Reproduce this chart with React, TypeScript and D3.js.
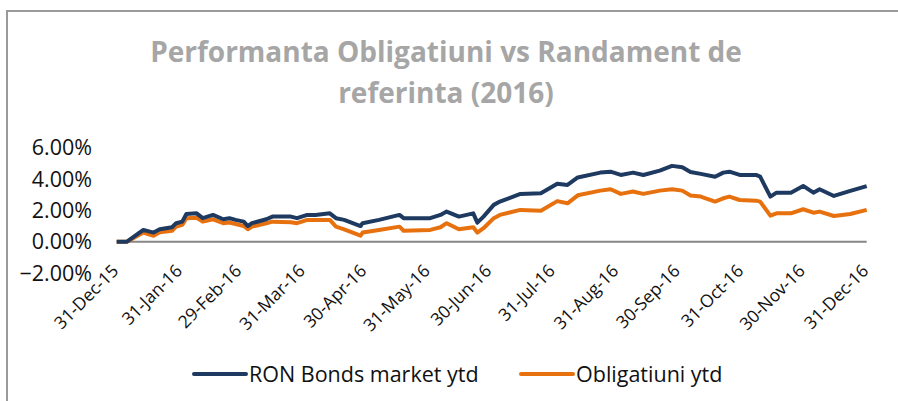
import React from "react";
import * as d3 from "d3";

const dates: string[] = [
  "2015-12-31","2016-01-05","2016-01-13","2016-01-18","2016-01-21","2016-01-27","2016-01-29",
  "2016-02-01","2016-02-03","2016-02-08","2016-02-11","2016-02-16","2016-02-21","2016-02-24","2016-02-27",
  "2016-03-02","2016-03-04","2016-03-06","2016-03-13","2016-03-16","2016-03-25","2016-03-28",
  "2016-04-02","2016-04-06","2016-04-13","2016-04-16","2016-04-20","2016-04-28","2016-04-29",
  "2016-05-07","2016-05-17","2016-05-19","2016-06-01","2016-06-06","2016-06-09","2016-06-15",
  "2016-06-22","2016-06-24","2016-06-27","2016-07-02","2016-07-05","2016-07-15","2016-07-25",
  "2016-08-02","2016-08-07","2016-08-12","2016-08-23","2016-08-28","2016-09-02","2016-09-08",
  "2016-09-13","2016-09-21","2016-09-27","2016-10-02","2016-10-06","2016-10-11","2016-10-18",
  "2016-10-22","2016-10-25","2016-10-30","2016-11-07","2016-11-09","2016-11-14","2016-11-17",
  "2016-11-24","2016-11-30","2016-12-05","2016-12-08","2016-12-15","2016-12-23","2016-12-31"
];

const ronBonds: number[] = [
  0, 0, 0.75, 0.58, 0.79, 0.92, 1.18,
  1.28, 1.77, 1.81, 1.5, 1.71, 1.43, 1.5, 1.39,
  1.28, 1.0, 1.18, 1.43, 1.6, 1.6, 1.5,
  1.71, 1.71, 1.81, 1.5, 1.39, 1.0, 1.18,
  1.39, 1.71, 1.5, 1.5, 1.71, 1.92, 1.6,
  1.81, 1.22, 1.6, 2.35, 2.56, 3.05, 3.09,
  3.7, 3.62, 4.1, 4.41, 4.47, 4.26, 4.41,
  4.26, 4.54, 4.84, 4.75, 4.45, 4.33, 4.15,
  4.41, 4.47, 4.26, 4.26, 4.15, 2.88, 3.13,
  3.13, 3.56, 3.13, 3.35, 2.92, 3.24, 3.55
];

const obligatiuni: number[] = [
  0, 0, 0.58, 0.38, 0.6, 0.7, 0.96,
  1.07, 1.5, 1.53, 1.28, 1.43, 1.18, 1.22, 1.13,
  1.0, 0.79, 0.96, 1.18, 1.28, 1.24, 1.18,
  1.39, 1.39, 1.39, 0.96, 0.79, 0.38, 0.58,
  0.75, 0.96, 0.7, 0.75, 0.92, 1.18, 0.79,
  0.92, 0.58, 0.86, 1.5, 1.71, 2.03, 1.98,
  2.59, 2.45, 2.96, 3.26, 3.35, 3.05, 3.2,
  3.05, 3.26, 3.35, 3.26, 2.95, 2.88, 2.56,
  2.77, 2.88, 2.66, 2.62, 2.56, 1.66, 1.81,
  1.81, 2.07, 1.85, 1.92, 1.64, 1.77, 2.03
];

const xTickDates: string[] = [
  "2015-12-31","2016-01-31","2016-02-29","2016-03-31","2016-04-30","2016-05-31","2016-06-30",
  "2016-07-31","2016-08-31","2016-09-30","2016-10-31","2016-11-30","2016-12-31"
];
const yTicks: number[] = [-2, 0, 2, 4, 6];

const titleLines: string[] = ["Performanta Obligatiuni vs Randament de", "referinta (2016)"];
const seriesNames: string[] = ["RON Bonds market ytd", "Obligatiuni ytd"];
const seriesColors: string[] = ["#1f3a60", "#e8710f"];

const parse = d3.timeParse("%Y-%m-%d");
const fmt = d3.timeFormat("%d-%b-%y");

export default function App() {
  const W = 898, H = 401;
  const x = d3.scaleTime()
    .domain([parse("2015-12-31")!, parse("2016-12-31")!])
    .range([116.7, 866.7]);
  const y = d3.scaleLinear().domain([-2, 6]).range([273, 147.7]);

  const mk = (vals: number[]) =>
    d3.line<number>()
      .x((_, i) => x(parse(dates[i])!))
      .y((v) => y(v))
      .curve(d3.curveLinear)(vals) || "";

  const font = "'Open Sans', sans-serif";

  return (
    <svg width={W} height={H} style={{ position: "fixed", left: 0, top: 0, background: "#fff" }}
      fontFamily={font}>
      <rect x={0} y={0} width={W} height={H} fill="#fff" />
      <rect x={7} y={11} width={1200} height={1200} fill="none" stroke="#9a9a9a" strokeWidth={2} />
      {titleLines.map((t, i) => (
        <text key={i} x={446} y={62 + i * 41} textAnchor="middle" fontSize={28} fontWeight={700}
          fill="#a6a6a6">{t}</text>
      ))}
      {yTicks.map((t) => (
        <text key={t} x={92} y={y(t)} dy="0.36em" textAnchor="end" fontSize={21.5} fill="#111">
          {d3.format(".2f")(t) + "%"}
        </text>
      ))}
      <line x1={x.range()[0]} x2={x.range()[1]} y1={y(0)} y2={y(0)} stroke="#868686" strokeWidth={2} />
      {xTickDates.map((d) => {
        const px = x(parse(d)!) + 3;
        const py = 272;
        return (
          <text key={d} x={px} y={py} textAnchor="end" fontSize={17.5} fill="#111"
            transform={`rotate(-45 ${px} ${py})`}>{fmt(parse(d)!)}</text>
        );
      })}
      <path d={mk(obligatiuni)} fill="none" stroke={seriesColors[1]} strokeWidth={4} strokeLinejoin="round" />
      <path d={mk(ronBonds)} fill="none" stroke={seriesColors[0]} strokeWidth={4} strokeLinejoin="round" />
      {seriesNames.map((n, i) => {
        const lx = i === 0 ? 194 : 521;
        return (
          <g key={n}>
            <line x1={lx} x2={lx + 52} y1={374} y2={374} stroke={seriesColors[i]} strokeWidth={4}
              strokeLinecap="round" />
            <text x={lx + 55} y={374} dy="0.36em" fontSize={21.5} fill="#111">{n}</text>
          </g>
        );
      })}
    </svg>
  );
}
